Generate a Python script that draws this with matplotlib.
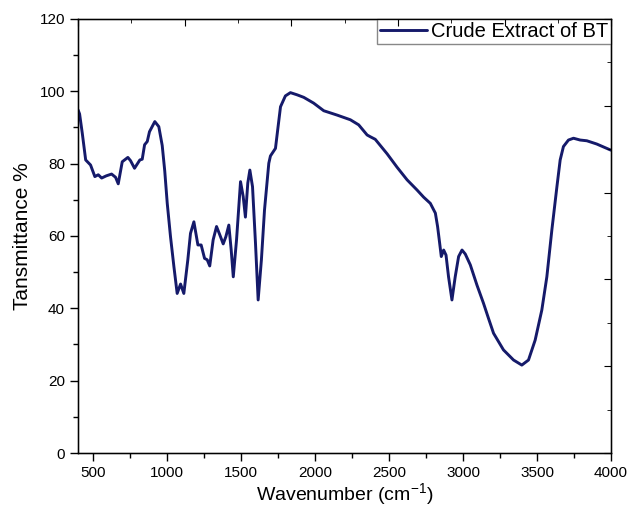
import matplotlib
matplotlib.use("Agg")
import matplotlib.pyplot as plt
from matplotlib.ticker import MultipleLocator

plt.rcParams['font.family'] = ['Liberation Sans', 'DejaVu Sans']

wavenumber = [400, 410, 428, 451, 484, 513, 536, 559, 590, 626, 653, 671, 698, 736, 754,
              781, 817, 833, 849, 867, 882, 918, 945, 968, 985, 1002, 1024, 1047, 1069,
              1092, 1114, 1141, 1159, 1182, 1209, 1231, 1254, 1272, 1289, 1312, 1335,
              1357, 1380, 1398, 1418, 1434, 1448, 1470, 1497, 1515, 1530, 1546, 1560,
              1578, 1598, 1616, 1638, 1659, 1688, 1699, 1733, 1748, 1767, 1800, 1834,
              1879, 1924, 1991, 2059, 2149, 2239, 2295, 2352, 2374, 2407, 2487, 2554,
              2622, 2689, 2734, 2779, 2813, 2828, 2842, 2853, 2869, 2885, 2902, 2925,
              2947, 2970, 2993, 3015, 3049, 3094, 3138, 3172, 3206, 3273, 3341, 3397,
              3442, 3487, 3532, 3566, 3600, 3634, 3656, 3678, 3712, 3746, 3791, 3836,
              3903, 3993, 4000]
transmittance = [94.8, 93.7, 88.4, 81.0, 79.6, 76.4, 76.9, 76.0, 76.6, 77.1, 76.2, 74.4,
                 80.5, 81.7, 80.8, 78.7, 81.0, 81.2, 85.2, 86.1, 88.8, 91.6, 90.2, 85.0,
                 78.0, 69.0, 59.8, 51.5, 44.1, 46.7, 44.1, 53.4, 60.7, 63.9, 57.5, 57.5,
                 53.8, 53.4, 51.7, 58.9, 62.6, 60.3, 57.8, 59.8, 63.0, 56.1, 48.7, 58.9,
                 75.0, 70.9, 65.2, 74.6, 78.2, 73.6, 58.0, 42.3, 53.4, 67.2, 80.1, 82.1,
                 84.2, 89.3, 95.7, 98.7, 99.6, 99.0, 98.3, 96.7, 94.6, 93.4, 92.1, 90.7,
                 87.9, 87.4, 86.7, 82.7, 79.0, 75.5, 72.7, 70.7, 69.0, 66.3, 62.6, 58.0,
                 54.3, 56.1, 54.7, 48.7, 42.3, 48.7, 54.3, 56.1, 55.0, 52.0, 46.4, 41.4,
                 37.2, 33.1, 28.5, 25.7, 24.3, 25.7, 31.2, 39.5, 48.7, 61.7, 73.6, 81.0,
                 84.7, 86.5, 87.0, 86.5, 86.3, 85.4, 83.8, 83.7]
series_label = "Crude Extract of BT"
x_ticks = [500, 1000, 1500, 2000, 2500, 3000, 3500, 4000]
y_ticks = [0, 20, 40, 60, 80, 100, 120]

fig = plt.figure(figsize=(6.30, 5.09), dpi=100)
ax = fig.add_axes([0.124, 0.110, 0.846, 0.853])
ax.plot(wavenumber, transmittance, color='#151a6a', lw=2.1, solid_joinstyle='round',
        solid_capstyle='round', label=series_label)
ax.set_xlim(400, 4000)
ax.set_ylim(0, 120)
ax.set_xticks(x_ticks)
ax.set_yticks(y_ticks)
ax.xaxis.set_minor_locator(MultipleLocator(250))
ax.yaxis.set_minor_locator(MultipleLocator(10))
ax.tick_params(which='major', direction='out', length=6, width=1, labelsize=11, pad=3.5)
ax.tick_params(which='minor', direction='out', length=3.5, width=1)
for s in ax.spines.values():
    s.set_linewidth(1.0)
ax.set_xlabel("Wavenumber (cm$^{\\mathregular{-1}}$)", fontsize=14, labelpad=1)
ax.set_ylabel("Tansmittance %", fontsize=15, labelpad=5)

# mirrored top / right axes with independent tick spacing (inward, unlabeled)
axt = ax.twiny()
axt.set_xlim(0, 10)
axt.set_xticks(range(0, 11, 2))
axt.xaxis.set_minor_locator(MultipleLocator(1))
axt.tick_params(which='major', direction='in', length=5, labeltop=False)
axt.tick_params(which='minor', direction='in', length=3)
axr = ax.twinx()
axr.set_ylim(0, 10)
axr.set_yticks(range(0, 11, 2))
axr.yaxis.set_minor_locator(MultipleLocator(1))
axr.tick_params(which='major', direction='in', length=5, labelright=False)
axr.tick_params(which='minor', direction='in', length=3)

leg = ax.legend(loc='upper right', borderaxespad=0, fancybox=False, edgecolor='#888888',
                fontsize=14.5, handlelength=2.3, handletextpad=0.2, borderpad=0.15,
                framealpha=1)
leg.get_frame().set_linewidth(1.0)
leg.set_zorder(10)

fig.savefig("out.png", dpi=100)
